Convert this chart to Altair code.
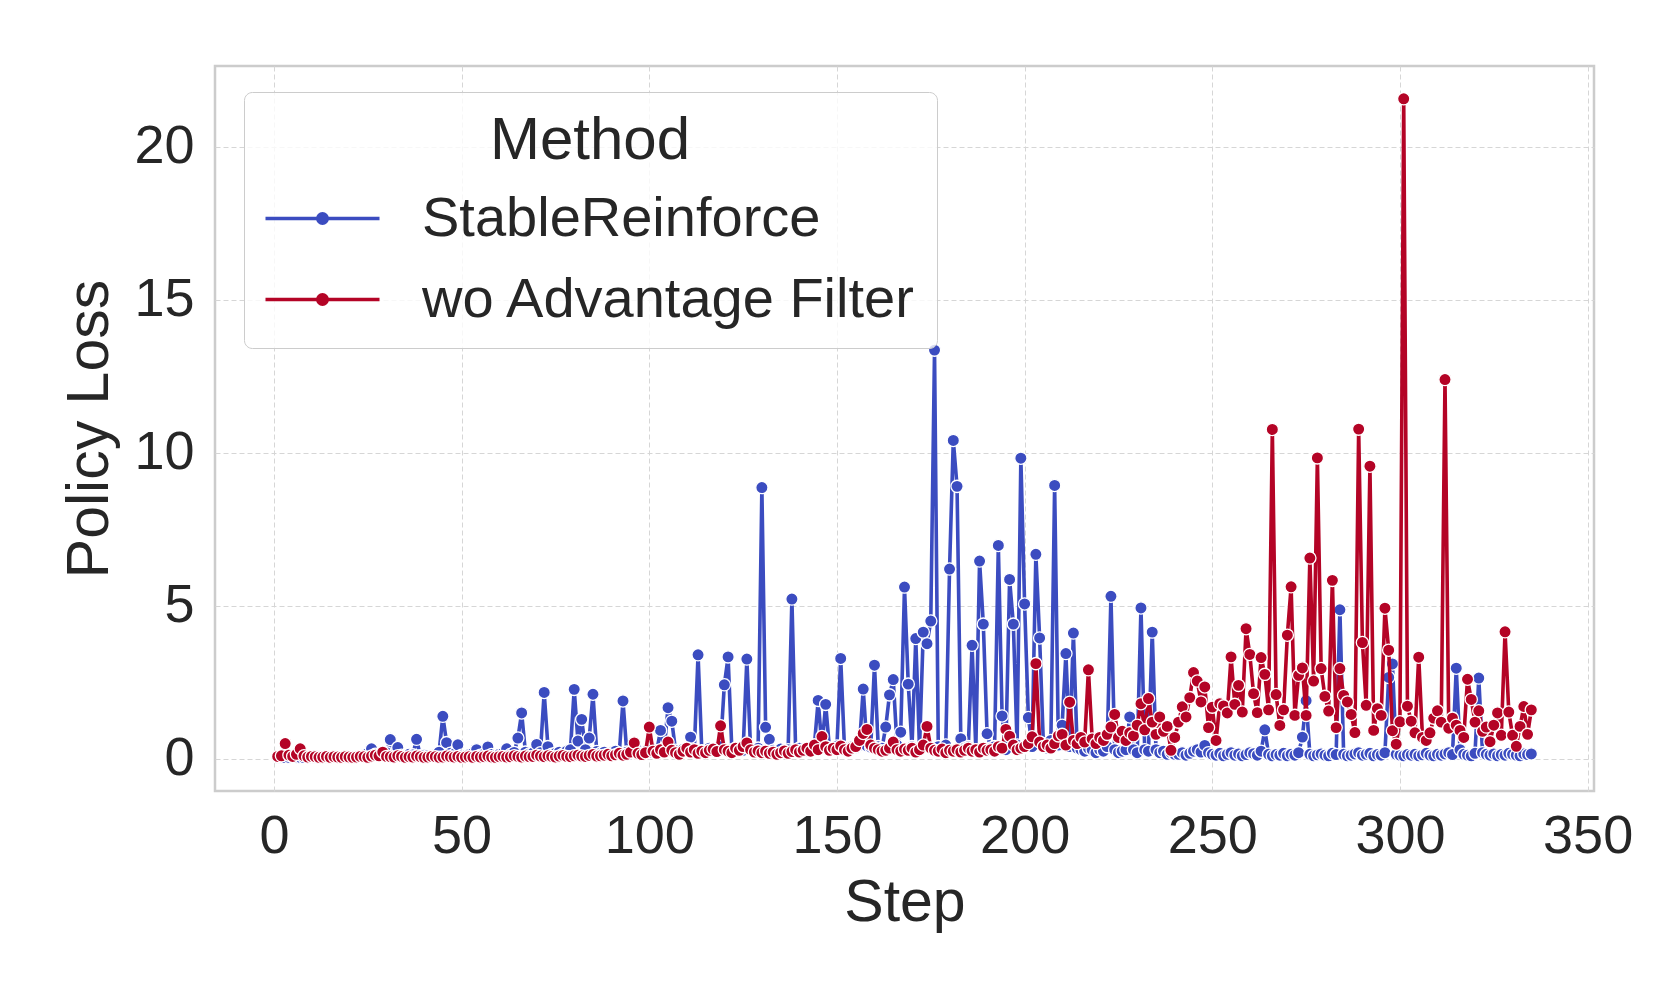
import altair as alt
import pandas as pd

steps = list(range(1, 336))

stable_reinforce = [
    0.05, 0.06, 0.04, 0.05, 0.07, 0.06, 0.05, 0.04, 0.06, 0.05,
    0.05, 0.07, 0.06, 0.05, 0.06, 0.08, 0.07, 0.06, 0.05, 0.07,
    0.08, 0.06, 0.09, 0.12, 0.18, 0.33, 0.15, 0.10, 0.12, 0.20,
    0.63, 0.14, 0.37, 0.12, 0.10, 0.15, 0.13, 0.64, 0.10, 0.12,
    0.11, 0.09, 0.14, 0.22, 1.39, 0.53, 0.18, 0.15, 0.46, 0.12,
    0.10, 0.14, 0.18, 0.30, 0.12, 0.16, 0.39, 0.14, 0.11, 0.15,
    0.18, 0.33, 0.14, 0.21, 0.68, 1.50, 0.22, 0.16, 0.19, 0.47,
    0.20, 2.17, 0.40, 0.15, 0.18, 0.22, 0.16, 0.25, 0.30, 2.27,
    0.58, 1.29, 0.30, 0.68, 2.11, 0.24, 0.18, 0.22, 0.15, 0.20,
    0.25, 0.18, 1.89, 0.22, 0.16, 0.20, 0.28, 0.19, 0.24, 0.21,
    0.30, 0.26, 0.93, 0.35, 1.67, 1.23, 0.28, 0.22, 0.31, 0.25,
    0.71, 0.30, 3.40, 0.26, 0.22, 0.35, 0.28, 0.24, 0.40, 2.42,
    3.33, 0.30, 0.25, 0.33, 0.28, 3.26, 0.30, 0.22, 0.35, 8.86,
    1.03, 0.64, 0.28, 0.24, 0.32, 0.26, 0.30, 5.22, 0.28, 0.35,
    0.30, 0.26, 0.38, 0.45, 1.91, 0.40, 1.78, 0.35, 0.30, 0.42,
    3.28, 0.38, 0.33, 0.40, 0.36, 0.45, 2.28, 0.42, 0.38, 3.06,
    0.40, 0.35, 1.04, 2.09, 2.59, 0.45, 0.87, 5.61, 2.44, 0.40,
    3.93, 0.35, 4.14, 3.76, 4.50, 13.35, 0.40, 0.30, 0.45, 6.20,
    10.40, 8.90, 0.66, 0.35, 0.40, 3.71, 0.30, 6.46, 4.40, 0.82,
    0.35, 0.40, 6.97, 1.40, 0.30, 5.86, 4.40, 0.45, 9.82, 5.06,
    1.35, 0.40, 6.68, 3.95, 0.50, 0.35, 0.60, 8.93, 0.45, 1.10,
    3.44, 0.40, 4.11, 0.35, 0.30, 0.25, 0.35, 0.30, 0.20, 0.30,
    0.25, 0.40, 5.31, 0.30, 0.20, 0.25, 0.30, 1.37, 0.30, 0.20,
    4.93, 0.30, 0.25, 4.14, 0.30, 0.20, 0.25, 0.15, 0.20, 0.15,
    0.15, 0.20, 0.12, 0.18, 0.25, 0.30, 0.22, 0.44, 0.20, 0.15,
    0.12, 0.18, 0.10, 0.15, 0.20, 0.12, 0.16, 0.10, 0.14, 0.20,
    0.17, 0.12, 0.25, 0.95, 0.15, 0.10, 0.14, 0.12, 0.18, 0.10,
    0.15, 0.12, 0.20, 0.71, 1.90, 0.15, 0.10, 0.13, 0.16, 0.12,
    0.10, 0.18, 0.14, 4.87, 0.15, 0.10, 0.12, 0.16, 0.20, 0.12,
    0.15, 0.18, 0.10, 0.14, 0.12, 0.20, 2.66, 3.10, 0.15, 0.12,
    0.10, 0.14, 0.12, 0.15, 0.10, 0.13, 0.18, 0.12, 0.10, 0.15,
    0.12, 0.16, 0.20, 0.14, 2.96, 0.30, 0.15, 0.12, 0.10, 0.18,
    2.64, 0.20, 0.15, 0.12, 0.16, 0.10, 0.14, 0.12, 0.18, 0.15,
    0.12, 0.10, 0.16, 0.14, 0.16,
]

wo_advantage_filter = [
    0.08, 0.10, 0.50, 0.12, 0.08, 0.15, 0.33, 0.10, 0.06, 0.08,
    0.07, 0.05, 0.06, 0.08, 0.05, 0.07, 0.06, 0.05, 0.07, 0.06,
    0.05, 0.06, 0.08, 0.07, 0.05, 0.09, 0.12, 0.10, 0.22, 0.08,
    0.07, 0.06, 0.10, 0.08, 0.05, 0.07, 0.06, 0.09, 0.07, 0.05,
    0.06, 0.08, 0.07, 0.05, 0.06, 0.09, 0.07, 0.06, 0.08, 0.05,
    0.06, 0.07, 0.05, 0.08, 0.06, 0.07, 0.09, 0.06, 0.05, 0.07,
    0.08, 0.06, 0.07, 0.10, 0.08, 0.06, 0.09, 0.07, 0.08, 0.12,
    0.09, 0.07, 0.10, 0.08, 0.06, 0.09, 0.11, 0.08, 0.07, 0.10,
    0.12, 0.09, 0.08, 0.11, 0.14, 0.09, 0.10, 0.12, 0.15, 0.10,
    0.13, 0.18, 0.12, 0.15, 0.22, 0.52, 0.18, 0.14, 0.20, 1.04,
    0.25, 0.18, 0.30, 0.22, 0.55, 0.28, 0.20, 0.15, 0.25, 0.35,
    0.22, 0.30, 0.18, 0.25, 0.20, 0.28, 0.32, 0.24, 1.08, 0.30,
    0.25, 0.20, 0.35, 0.28, 0.40, 0.52, 0.30, 0.22, 0.26, 0.20,
    0.25, 0.18, 0.22, 0.15, 0.20, 0.26, 0.18, 0.24, 0.30, 0.22,
    0.28, 0.35, 0.25, 0.45, 0.30, 0.73, 0.40, 0.28, 0.35, 0.30,
    0.42, 0.30, 0.25, 0.35, 0.40, 0.60, 0.83, 0.96, 0.45, 0.35,
    0.30, 0.25, 0.28, 0.35, 0.55, 0.30, 0.25, 0.32, 0.28, 0.35,
    0.22, 0.30, 0.45, 1.06, 0.35, 0.28, 0.25, 0.32, 0.20, 0.28,
    0.25, 0.30, 0.22, 0.28, 0.35, 0.25, 0.30, 0.22, 0.35, 0.28,
    0.30, 0.25, 0.40, 0.35, 0.96, 0.74, 0.45, 0.30, 0.35, 0.40,
    0.50, 0.72, 3.11, 0.55, 0.40, 0.45, 0.35, 0.50, 0.75, 0.80,
    0.45, 1.85, 0.60, 0.50, 0.70, 0.55, 2.91, 0.65, 0.50, 0.70,
    0.60, 0.80, 1.04, 1.45, 0.70, 0.90, 0.60, 0.85, 0.75, 1.10,
    1.80, 0.95, 1.97, 1.20, 0.80, 1.37, 0.90, 1.06, 0.28, 0.70,
    1.20, 1.70, 1.37, 2.00, 2.82, 2.54, 1.86, 2.35, 1.02, 1.69,
    0.60, 1.80, 1.73, 1.50, 3.33, 1.78, 2.40, 1.53, 4.25, 3.41,
    2.13, 1.51, 3.31, 2.76, 1.60, 10.76, 2.10, 1.09, 1.60, 4.04,
    5.62, 1.42, 2.73, 2.97, 1.42, 6.56, 2.54, 9.83, 2.95, 2.04,
    1.56, 5.83, 1.02, 2.95, 2.07, 1.86, 1.45, 0.86, 10.77, 3.80,
    1.75, 9.56, 0.93, 1.64, 1.42, 4.92, 3.55, 0.92, 0.48, 1.21,
    21.56, 1.72, 1.23, 0.85, 3.32, 0.70, 0.60, 0.85, 1.33, 1.57,
    1.20, 12.39, 1.00, 1.33, 1.10, 0.93, 0.70, 2.60, 1.94, 1.20,
    1.57, 0.90, 1.04, 0.56, 1.10, 1.50, 0.77, 4.15, 1.53, 0.77,
    0.41, 1.06, 1.71, 0.80, 1.60,
]

methods = ["StableReinforce", "wo Advantage Filter"]
colors = ["#3b4cc0", "#b40426"]
x_ticks = [0, 50, 100, 150, 200, 250, 300, 350]
y_ticks = [0, 5, 10, 15, 20]

df = pd.DataFrame({
    "Step": steps + steps,
    "Policy Loss": stable_reinforce + wo_advantage_filter,
    "Method": [methods[0]] * len(steps) + [methods[1]] * len(steps),
})

FONT = "Liberation Sans"
TEXT = "#262626"

# legend glyph: a line with a dot in its middle (seaborn style), drawn in stroke
legend_path = (
    "M-2,0L2,0"
    "M0.163,0A0.163,0.163,0,1,1,-0.163,0A0.163,0.163,0,1,1,0.163,0Z"
    "M0.055,0A0.055,0.055,0,1,1,-0.055,0A0.055,0.055,0,1,1,0.055,0Z"
)

color = alt.Color(
    "Method:N",
    scale=alt.Scale(domain=methods, range=colors),
    legend=alt.Legend(
        title="Method",
        orient="none",
        legendX=29,
        legendY=26,
        titleAnchor="middle",
        titleFont=FONT,
        titleFontSize=60,
        titleFontWeight="normal",
        titleColor=TEXT,
        titlePadding=16,
        titleLimit=1000,
        labelFont=FONT,
        labelFontSize=56,
        labelColor=TEXT,
        labelLimit=1000,
        labelOffset=69,
        symbolType=legend_path,
        symbolSize=3249,
        symbolOffset=28,
        symbolStrokeWidth=3.7,
        rowPadding=22,
        padding=20,
        cornerRadius=8,
        strokeColor="#cccccc",
        fillColor="rgba(255,255,255,0.8)",
    ),
)

x = alt.X(
    "Step:Q",
    scale=alt.Scale(domain=[-15.7, 351.7], nice=False, zero=False),
    axis=alt.Axis(values=x_ticks, title="Step", format="d"),
)
y = alt.Y(
    "Policy Loss:Q",
    scale=alt.Scale(domain=[-1.05, 22.63], nice=False, zero=False),
    axis=alt.Axis(values=y_ticks, title="Policy Loss", format="d"),
)


def series(name):
    return (
        alt.Chart(df)
        .transform_filter(alt.datum.Method == name)
        .mark_line(
            strokeWidth=3.6,
            point=alt.OverlayMarkDef(filled=True, size=150, stroke="white", strokeWidth=1.3, opacity=1),
        )
        .encode(x=x, y=y, color=color)
    )


chart = (
    alt.layer(series(methods[0]), series(methods[1]))
    .properties(
        width=1379,
        height=725,
        autosize=alt.AutoSizeParams(type="none"),
        padding={"left": 207, "top": 58, "right": 40, "bottom": 150},
    )
    .configure_view(stroke="#cccccc", strokeWidth=2.5)
    .configure_axis(
        domain=False,
        ticks=False,
        tickSize=0,
        grid=True,
        gridColor="#d6d6d6",
        gridDash=[5, 3],
        gridWidth=1,
        labelFont=FONT,
        labelFontSize=54,
        labelColor=TEXT,
        titleFont=FONT,
        titleFontSize=59,
        titleFontWeight="normal",
        titleColor=TEXT,
    )
    .configure_axisX(labelPadding=18, titlePadding=10)
    .configure_axisY(labelPadding=21, titlePadding=14)
)

chart.save("out.html", embed_options={"renderer": "svg", "actions": False})
